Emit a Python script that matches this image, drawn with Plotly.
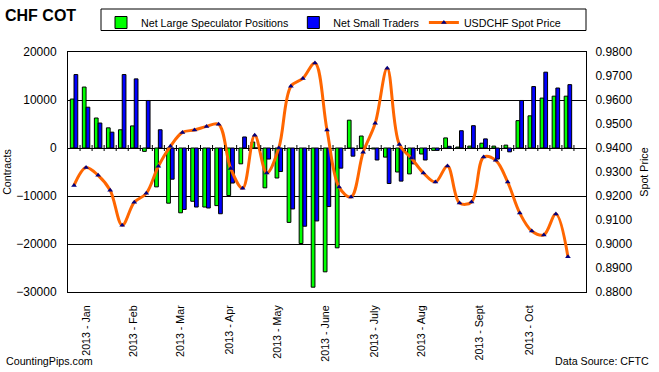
import plotly.graph_objects as go

# ---- data ----
weeks = list(range(43))
month_labels = ["2013 - Jan", "2013 - Feb", "2013 - Mar", "2013 - Apr", "2013 - May",
                "2013 - June", "2013 - July", "2013 - Aug", "2013 - Sept", "2013 - Oct"]
month_tick_weeks = [1, 4.92, 8.85, 12.9, 16.9, 20.9, 24.98, 28.85, 33.7, 37.8]

large_spec = [10200, 12700, 6250, 4200, 3800, 4600, -700, -8100, -11500, -13500,
              -11100, -12300, -12000, -9900, -3300, 1250, -8300, -6250, -15500, -19900,
              -29000, -25800, -20800, 5800, 2500, -200, -1900, -5000, -5400, -1250,
              -500, 2100, 200, 400, 1000, 400, 600, 5700, 6700, 10400,
              10800, 10800, None]
small_traders = [15300, 8500, 5200, 3300, 15300, 14400, 9900, 3800, -6500, -12800,
                 -12300, -12500, -13700, -7300, 2300, 0, -2300, -4900, -12700, -16300,
                 -15200, -12200, -4200, -1700, 0, -2500, -7400, -6900, -3300, -2500,
                 -500, 350, 3600, 4650, 1900, -2300, -800, 9900, 12800, 15800,
                 12500, 13200, None]
spot_price = [0.9244, 0.9319, 0.9286, 0.9224, 0.9078, 0.9174, 0.9211, 0.9324, 0.9407, 0.9465,
              0.9475, 0.9490, 0.9499, 0.9315, 0.9232, 0.9453, 0.9296, 0.9400, 0.9657, 0.9690,
              0.9754, 0.9475, 0.9237, 0.9196, 0.9382, 0.9503, 0.9732, 0.9415, 0.9358, 0.9296,
              0.9258, 0.9325, 0.9171, 0.9175, 0.9362, 0.9349, 0.9258, 0.9129, 0.9054, 0.9038,
              0.9125, 0.8947, None]

FONT = "Liberation Sans, Arial, sans-serif"

fig = go.Figure()
fig.add_trace(go.Bar(x=weeks, y=large_spec, name="Net Large Speculator Positions",
                     marker=dict(color="#00FF00", line=dict(color="black", width=1))))
fig.add_trace(go.Bar(x=weeks, y=small_traders, name="Net Small Traders",
                     marker=dict(color="#0000FF", line=dict(color="black", width=1))))
fig.add_trace(go.Scatter(x=weeks, y=spot_price, name="USDCHF Spot Price", yaxis="y2",
                         mode="lines+markers",
                         line=dict(color="#FF6600", width=3, shape="spline", smoothing=1),
                         marker=dict(symbol="triangle-up", size=5, color="#000080")))

# tick marks crossing the zero line at the category boundaries
shapes = []
for k in range(1, len(weeks)):
    shapes.append(dict(type="line", xref="x", yref="y", x0=k - 0.5, x1=k - 0.5,
                       ysizemode="pixel", yanchor=0, y0=-3, y1=3,
                       line=dict(color="black", width=1)))
# legend frame
shapes.append(dict(type="rect", xref="paper", yref="paper",
                   x0=(101 - 68) / 518, x1=1.0, y0=(292 - 30.5) / 240, y1=(292 - 9) / 240,
                   line=dict(color="black", width=1)))

fig.update_layout(
    width=659, height=372, autosize=False,
    margin=dict(l=68, r=73, t=52, b=80, autoexpand=False),
    paper_bgcolor="white", plot_bgcolor="white",
    font=dict(family=FONT, size=11, color="black"),
    barmode="group", bargap=0.38, bargroupgap=0,
    title=dict(text="<b>CHF COT</b>", x=5 / 659, xanchor="left", xref="container",
               y=1 - 15 / 372, yanchor="middle", yref="container",
               font=dict(family=FONT, size=16, color="black")),
    xaxis=dict(range=[-0.5, len(weeks) - 0.5], tickmode="array",
               tickvals=month_tick_weeks, ticktext=month_labels, tickangle=-90,
               tickfont=dict(size=10.7), ticks="", ticklabelstandoff=8,
               showgrid=False, zeroline=False, showline=True, mirror=True,
               linecolor="black", linewidth=1, automargin=False),
    yaxis=dict(range=[-30000, 20000], dtick=10000, tickformat="d", tickfont=dict(size=12),
               showgrid=True, gridcolor="black", gridwidth=1,
               zeroline=True, zerolinecolor="black", zerolinewidth=1,
               showline=True, linecolor="black", linewidth=1, ticks="",
               ticklabelstandoff=8, automargin=False,
               title=dict(text="Contracts", font=dict(size=10.7), standoff=2)),
    yaxis2=dict(range=[0.88, 0.98], dtick=0.01, tickformat=".4f", overlaying="y",
                side="right", tickfont=dict(size=12), showgrid=False, zeroline=False,
                showline=True, linecolor="black", linewidth=1, ticks="",
                ticklabelstandoff=6, automargin=False,
                title=dict(text="Spot Price", font=dict(size=10.7), standoff=9)),
    legend=dict(orientation="h", x=(101 - 68) / 518, xanchor="left",
                y=(292 - 8) / 240, yanchor="top", bgcolor="rgba(0,0,0,0)",
                borderwidth=0, font=dict(size=10.7), traceorder="normal"),
    shapes=shapes,
    annotations=[
        dict(text="CountingPips.com", xref="paper", yref="paper",
             x=(4 - 68) / 518, y=(292 - 361) / 240, xanchor="left", yanchor="middle",
             showarrow=False, font=dict(size=10.7)),
        dict(text="Data Source: CFTC", xref="paper", yref="paper",
             x=(651 - 68) / 518, y=(292 - 361) / 240, xanchor="right", yanchor="middle",
             showarrow=False, font=dict(size=10.7)),
    ],
)

fig.write_html("out.html", config={"displayModeBar": False},
               post_script="document.body.style.margin='0';document.body.style.overflow='hidden';")
